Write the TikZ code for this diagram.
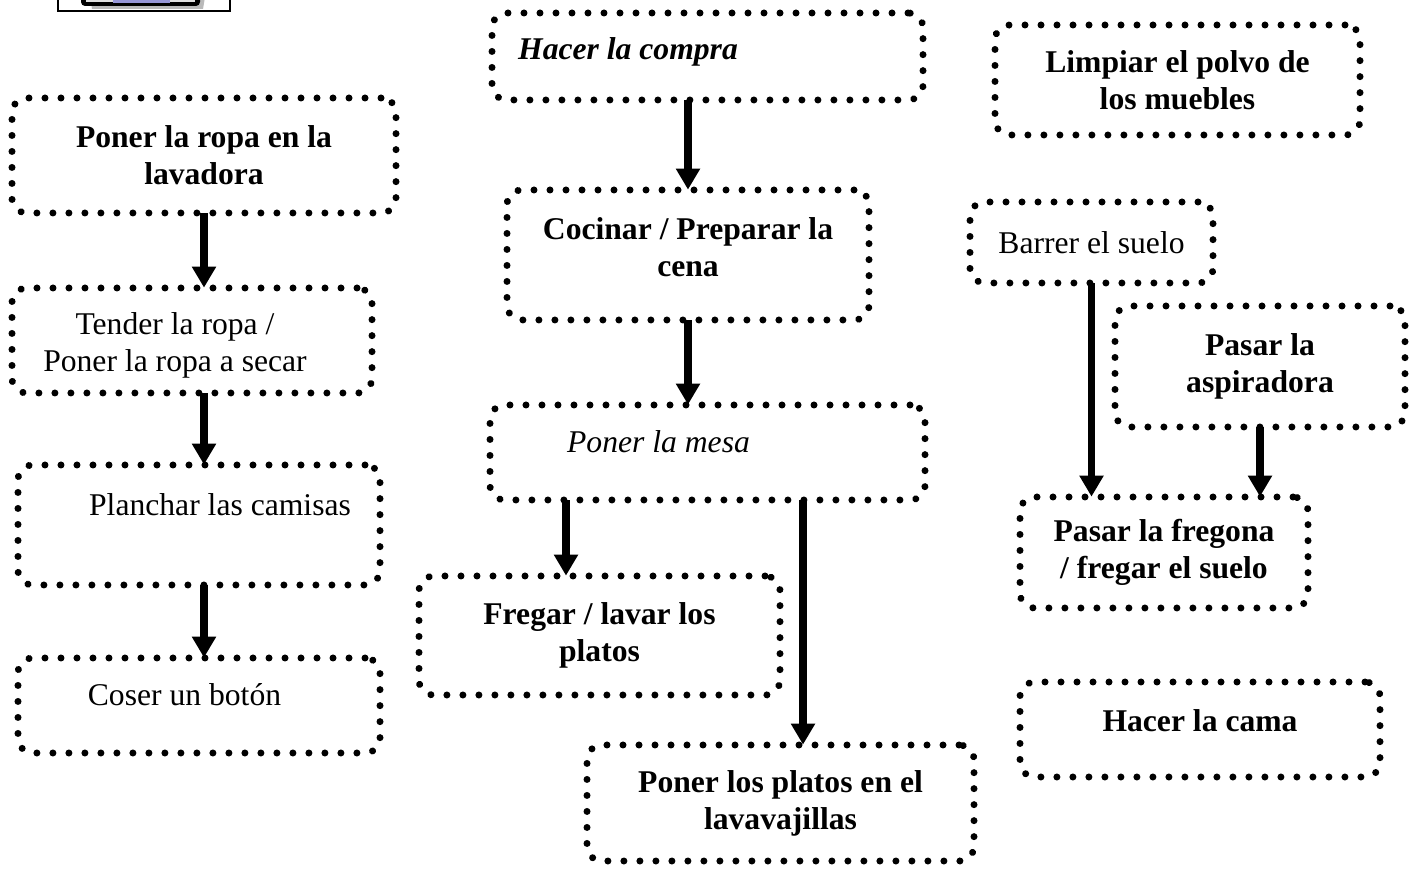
\documentclass[tikz,border=0pt]{standalone}
\usepackage{fontspec}
\setmainfont{Liberation Serif}
\usetikzlibrary{arrows.meta,decorations.markings}

\definecolor{lila}{RGB}{150,150,215}

\tikzset{
  tarea/.style={rounded corners=0.3cm, inner sep=0pt, align=center,
    font=\fontsize{18}{21}\selectfont\bfseries,
    postaction={decorate, decoration={markings,
      mark=between positions 0 and 1 step 0.32cm with {\fill (0,0) circle (0.07cm);}}}},
  texto/.style={align=center, inner sep=0pt, font=\fontsize{18}{21}\selectfont},
  flecha/.style={line width=0.15cm, -{Triangle[width=0.46cm,length=0.42cm]}}
}

\begin{document}
\begin{tikzpicture}
    \useasboundingbox (0,0) rectangle (28.4,-17.42);
    \clip (0,0) rectangle (28.4,-17.42);
    %% Clip art cut at the top
    \fill[gray!55] (1.76,0.3) -- (4.14,0.3) -- (4.06,-0.18) -- (1.84,-0.18) -- cycle;
    \fill[black, rounded corners=0.08cm] (1.62,0.3) rectangle (4.0,-0.12);
    \fill[gray!25] (1.72,0.3) rectangle (3.9,-0.04);
    \fill[lila] (2.26,0.3) rectangle (3.4,-0.06);
    \draw[line width=0.04cm] (1.16,0.5) rectangle (4.6,-0.23);
    %% Left column: la ropa
    \node[tarea, minimum width=7.68cm, minimum height=2.30cm] (lavadora) at (4.08,-3.11) {Poner la ropa en la\\lavadora};
    \node[tarea, minimum width=7.20cm, minimum height=2.10cm] (tender) at (3.84,-6.81) {};
    \node[texto] (tender-t) at (3.5,-6.9) {Tender la ropa /\\Poner la ropa a secar};
    \node[tarea, minimum width=7.24cm, minimum height=2.40cm] (planchar) at (3.98,-10.5) {};
    \node[texto] (planchar-t) at (4.4,-10.1) {Planchar las camisas};
    \node[tarea, minimum width=7.24cm, minimum height=1.90cm] (coser) at (3.98,-14.11) {};
    \node[texto] (coser-t) at (3.69,-13.9) {Coser un bot\'on};
    %% Middle column: la cocina
    \node[tarea, minimum width=8.62cm, minimum height=1.74cm] (compra) at (14.15,-1.13) {};
    \node[texto, font=\fontsize{18}{21}\selectfont\bfseries\itshape] (compra-t) at (12.56,-1.04) {Hacer la compra};
    \node[tarea, minimum width=7.24cm, minimum height=2.60cm, text depth=0.32cm] (cocinar) at (13.76,-5.10) {Cocinar / Preparar la\\cena};
    \node[tarea, minimum width=8.70cm, minimum height=1.90cm] (mesa) at (14.15,-9.05) {};
    \node[texto, font=\fontsize{18}{21}\selectfont\itshape] (mesa-t) at (13.17,-8.84) {Poner la mesa};
    \node[tarea, minimum width=7.22cm, minimum height=2.38cm] (fregar) at (11.99,-12.71) {Fregar / lavar los\\platos};
    \node[tarea, minimum width=7.74cm, minimum height=2.32cm] (lavavajillas) at (15.61,-16.06) {Poner los platos en el\\lavavajillas};
    %% Right column: la casa
    \node[tarea, minimum width=7.30cm, minimum height=2.20cm] (polvo) at (23.55,-1.60) {Limpiar el polvo de\\los muebles};
    \node[tarea, minimum width=4.86cm, minimum height=1.62cm, font=\fontsize{18}{21}\selectfont] (barrer) at (21.83,-4.85) {Barrer el suelo};
    \node[tarea, minimum width=5.80cm, minimum height=2.42cm] (aspiradora) at (25.20,-7.33) {Pasar la\\aspiradora};
    \node[tarea, minimum width=5.76cm, minimum height=2.22cm] (fregona) at (23.28,-11.05) {Pasar la fregona\\/ fregar el suelo};
    \node[tarea, minimum width=7.20cm, minimum height=1.90cm, text depth=0.36cm] (cama) at (24.00,-14.59) {Hacer la cama};
    %% Draw the arrows
    \draw[flecha] (lavadora.south) -- (lavadora.south |- tender.north);
    \draw[flecha] (tender.south -| lavadora.south) -- (planchar.north -| lavadora.south);
    \draw[flecha] (planchar.south -| lavadora.south) -- (coser.north -| lavadora.south);
    \draw[flecha] (compra.south -| cocinar.north) -- (cocinar.north);
    \draw[flecha] (cocinar.south) -- (cocinar.south |- mesa.north);
    \draw[flecha] ([xshift=-0.67cm]fregar.north |- mesa.south) -- ([xshift=-0.67cm]fregar.north);
    \draw[flecha] ([xshift=0.45cm]lavavajillas.north |- mesa.south) -- ([xshift=0.45cm]lavavajillas.north);
    \draw[flecha] (barrer.south) -- (barrer.south |- fregona.north);
    \draw[flecha] (aspiradora.south) -- (aspiradora.south |- fregona.north);
\end{tikzpicture}
\end{document}
